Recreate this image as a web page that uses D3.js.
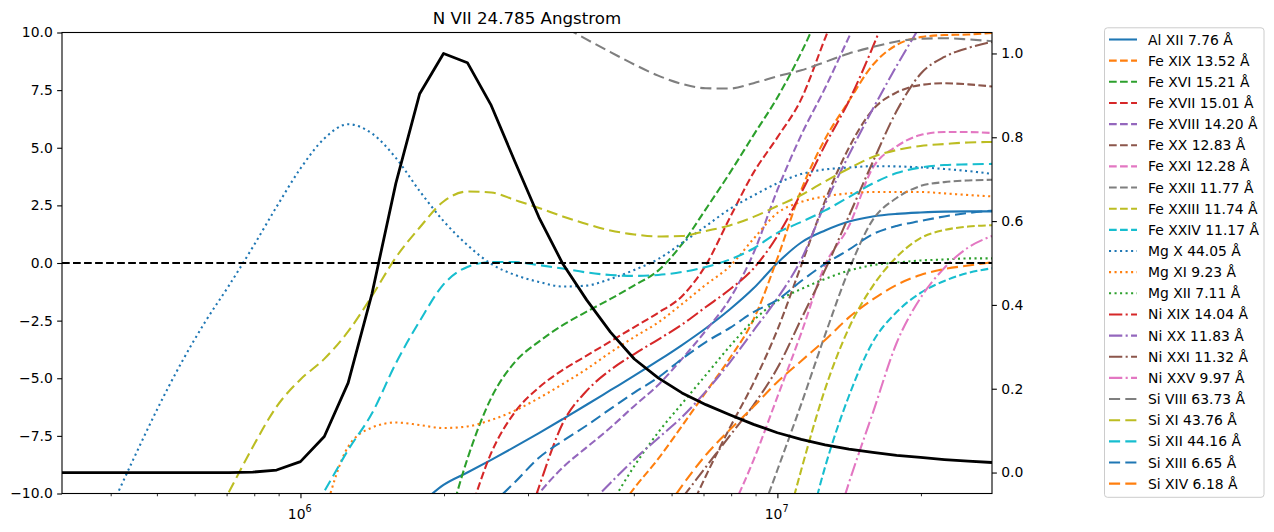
<!DOCTYPE html>
<html><head><meta charset="utf-8">
<script src="https://cdn.jsdelivr.net/npm/d3@7"></script>
<style>
html,body{margin:0;padding:0;background:#fff;}
text{font-family:"DejaVu Sans",sans-serif;}
</style></head>
<body>
<svg id="chart" width="1274" height="532"></svg>
<script>
const N = null;
const logT = [5.50,5.55,5.60,5.65,5.70,5.75,5.80,5.85,5.90,5.95,6.00,6.05,6.10,6.15,6.20,6.25,6.30,6.35,6.40,6.45,
              6.50,6.55,6.60,6.65,6.70,6.75,6.80,6.85,6.90,6.95,7.00,7.05,7.10,7.15,7.20,7.25,7.30,7.35,7.40,7.45];
const titleText = "N VII 24.785 Angstrom";
const leftTicks = [-10,-7.5,-5,-2.5,0,2.5,5,7.5,10];
const rightTicks = [0,0.2,0.4,0.6,0.8,1.0];
const majorX = [1e6,1e7];
const majorXExp = ["6","7"];
const minorX = [4e5,5e5,6e5,7e5,8e5,9e5,2e6,3e6,4e6,5e6,6e6,7e6,8e6,9e6,2e7];

// normalised contribution function (right axis)
const nviiGofT = [0,0,0,0,0,0,0,0,0.001,0.006,0.026,0.086,0.214,0.427,0.69,0.904,1.0,0.978,0.876,0.741,
                  0.609,0.498,0.412,0.335,0.271,0.226,0.19,0.162,0.138,0.115,0.095,0.079,0.066,0.056,0.048,0.041,0.036,0.031,0.027,0.024];

const alXII   = [N,N,N,N,N,N,N,N,N,N,N,N,N,N,N,-10.49,-9.63,-9.09,-8.54,-7.97,-7.38,-6.77,-6.15,-5.52,-4.89,-4.24,-3.56,-2.83,-2.02,-1.1,0.0,0.89,1.41,1.8,2.02,2.13,2.19,2.23,2.24,2.24];
const feXIX   = [N,N,N,N,N,N,N,N,N,N,N,N,N,N,N,N,N,N,N,N,N,N,N,-11.2,-9.76,-8.5,-7.07,-5.6,-4.14,-2.45,0.2,3.17,5.38,7.03,8.59,9.46,9.8,9.89,9.91,9.98];
const feXVI   = [N,N,N,N,N,N,N,N,N,N,N,N,N,N,N,N,-12.1,-8.5,-5.85,-4.29,-3.41,-2.7,-2.11,-1.56,-0.97,-0.33,0.82,2.34,3.9,5.55,7.18,9.13,11.4,N,N,N,N,N,N,N];
const feXVII  = [N,N,N,N,N,N,N,N,N,N,N,N,N,N,N,N,N,-11.2,-8.24,-6.46,-5.4,-4.64,-4.02,-3.4,-2.78,-2.16,-1.44,-0.09,1.95,3.92,5.45,7.11,9.75,12.3,N,N,N,N,N,N];
const feXVIII = [N,N,N,N,N,N,N,N,N,N,N,N,N,N,N,N,N,N,N,-11.4,-10.0,-8.87,-8.0,-7.14,-6.2,-5.29,-4.16,-2.93,-1.56,0.43,3.17,5.55,7.59,9.8,12,N,N,N,N,N];
const feXX    = [N,N,N,N,N,N,N,N,N,N,N,N,N,N,N,N,N,N,N,N,N,N,N,N,N,N,-11.5,-9.24,-7.16,-5.2,-2.9,-0.1,2.7,5.0,6.65,7.4,7.72,7.8,7.75,7.66];
const feXXI   = [N,N,N,N,N,N,N,N,N,N,N,N,N,N,N,N,N,N,N,N,N,N,N,N,N,N,N,N,-10.9,-8.55,-5.81,-3.04,-0.09,1.6,4.13,5.06,5.55,5.68,5.68,5.64];
const feXXII  = [N,N,N,N,N,N,N,N,N,N,N,N,N,N,N,N,N,N,N,N,N,N,N,N,N,N,N,N,N,-11.8,-8.98,-6.12,-3.12,-0.3,1.87,2.82,3.34,3.51,3.58,3.61];
const feXXIII = [N,N,N,N,N,N,N,N,N,N,N,N,N,N,N,N,N,N,N,N,N,N,N,N,N,N,N,N,N,N,-12.9,-8.98,-5.47,-2.82,-1.0,0.26,1.08,1.43,1.58,1.64];
const feXXIV  = [N,N,N,N,N,N,N,N,N,N,N,N,N,N,N,N,N,N,N,N,N,N,N,N,N,N,N,N,N,N,N,-12.9,-8.85,-5.77,-3.43,-2.13,-1.3,-0.78,-0.43,-0.23];
const mgX     = [N,N,-10.75,-8.5,-6.33,-4.34,-2.56,-0.98,0.69,2.44,4.1,5.4,6.02,5.62,4.56,3.12,1.82,0.78,-0.04,-0.52,-0.82,-1.02,-0.98,-0.69,-0.3,0.17,0.87,1.6,2.34,2.93,3.46,3.86,4.06,4.14,4.2,4.19,4.15,4.08,3.99,3.87];
const mgXI    = [N,N,N,N,N,N,N,N,N,N,N,-10.9,-7.97,-7.14,-6.92,-7.03,-7.16,-7.09,-6.81,-6.4,-5.86,-5.25,-4.6,-3.88,-3.21,-2.58,-1.78,-0.94,-0.15,1.05,2.17,2.65,2.89,3.02,3.08,3.08,3.08,3.02,2.95,2.89];
const mgXII   = [N,N,N,N,N,N,N,N,N,N,N,N,N,N,N,N,N,N,N,N,N,N,N,-10.5,-8.81,-7.35,-6.1,-4.86,-3.62,-2.49,-1.65,-1.13,-0.69,-0.33,-0.09,0.02,0.11,0.15,0.2,0.2];
const niXIX   = [N,N,N,N,N,N,N,N,N,N,N,N,N,N,N,N,N,N,N,-12.9,-9.72,-6.95,-5.55,-4.64,-3.95,-3.32,-2.67,-1.91,-1.15,-0.24,1.17,3.04,5.12,7.03,9.37,12,N,N,N,N];
const niXX    = [N,N,N,N,N,N,N,N,N,N,N,N,N,N,N,N,N,N,N,N,N,N,-10.6,-9.54,-8.52,-7.6,-6.68,-5.57,-4.32,-2.93,-1.53,0.15,2.56,4.69,6.68,8.55,10.3,N,N,N];
const niXXI   = [N,N,N,N,N,N,N,N,N,N,N,N,N,N,N,N,N,N,N,N,N,N,N,N,N,N,-10.2,-8.85,-7.5,-6.16,-4.56,-2.43,-0.3,2.04,4.38,6.59,8.2,8.94,9.33,9.59];
const niXXV   = [N,N,N,N,N,N,N,N,N,N,N,N,N,N,N,N,N,N,N,N,N,N,N,N,N,N,N,N,N,N,N,N,-12.9,-9.54,-6.51,-3.47,-1.52,-0.22,0.67,1.17];
const siVIII  = [N,N,N,N,N,N,N,N,N,N,N,N,N,N,N,N,N,N,N,N,10.9,10.28,9.7,9.15,8.61,8.13,7.77,7.58,7.57,7.8,8.1,8.36,8.72,9.09,9.37,9.61,9.73,9.75,9.7,9.62];
const siXI    = [N,N,N,N,N,N,-11.8,-9.93,-7.98,-6.23,-5.05,-4.16,-2.97,-1.43,0.24,1.54,2.67,3.1,3.06,2.73,2.39,2.02,1.69,1.41,1.24,1.15,1.17,1.39,1.63,2.0,2.47,2.95,3.54,4.1,4.6,4.9,5.08,5.16,5.23,5.25];
const siXII   = [N,N,N,N,N,N,N,N,N,N,-11.7,-9.91,-8.11,-6.52,-4.35,-2.52,-0.93,-0.17,0.04,0.04,-0.09,-0.24,-0.41,-0.52,-0.56,-0.52,-0.39,-0.17,0.15,0.63,1.31,1.78,2.28,2.86,3.45,3.9,4.14,4.25,4.28,4.3];
const siXIII  = [N,N,N,N,N,N,N,N,N,N,N,N,N,N,N,N,N,N,-10.5,-9.5,-8.45,-7.72,-7.05,-6.33,-5.62,-4.97,-4.16,-3.43,-2.82,-2.13,-1.6,-0.78,-0.04,0.58,1.25,1.61,1.82,2.02,2.17,2.27];
const siXIV   = [N,N,N,N,N,N,N,N,N,N,N,N,N,N,N,N,N,N,N,N,N,N,N,N,N,-11.2,-9.67,-8.33,-7.24,-6.23,-5.16,-4.25,-3.34,-2.36,-1.58,-0.95,-0.52,-0.26,-0.11,0.03];

const seriesNames = ["Al XII 7.76 Å","Fe XIX 13.52 Å","Fe XVI 15.21 Å","Fe XVII 15.01 Å","Fe XVIII 14.20 Å","Fe XX 12.83 Å",
  "Fe XXI 12.28 Å","Fe XXII 11.77 Å","Fe XXIII 11.74 Å","Fe XXIV 11.17 Å","Mg X 44.05 Å","Mg XI 9.23 Å","Mg XII 7.11 Å",
  "Ni XIX 14.04 Å","Ni XX 11.83 Å","Ni XXI 11.32 Å","Ni XXV 9.97 Å","Si VIII 63.73 Å","Si XI 43.76 Å","Si XII 44.16 Å",
  "Si XIII 6.65 Å","Si XIV 6.18 Å"];
const seriesData = [alXII,feXIX,feXVI,feXVII,feXVIII,feXX,feXXI,feXXII,feXXIII,feXXIV,mgX,mgXI,mgXII,niXIX,niXX,niXXI,niXXV,siVIII,siXI,siXII,siXIII,siXIV];
const seriesColors = ["#1f77b4","#ff7f0e","#2ca02c","#d62728","#9467bd","#8c564b","#e377c2","#7f7f7f","#bcbd22","#17becf",
  "#1f77b4","#ff7f0e","#2ca02c","#d62728","#9467bd","#8c564b","#e377c2","#7f7f7f","#bcbd22","#17becf","#1f77b4","#ff7f0e"];
const seriesStyle = ["solid","dashed","dashed","dashed","dashed","dashed","dashed","dashed","dashed","dashed",
  "dotted","dotted","dotted","dashdot","dashdot","dashdot","dashdot","long","long","long","long","long"];

const dashMap = {solid:null, dashed:"7.7,3.33", dotted:"2.08,3.44", dashdot:"13.3,3.33,2.08,3.33", long:"11.1,5.2"};

const svg = d3.select("#chart");
const L = 62, R = 992, T = 32.5, B = 493.5;
const temps = logT.map(v => Math.pow(10, v));
const x = d3.scaleLog().domain(d3.extent(temps)).range([L, R]);
const yL = d3.scaleLinear().domain([-10, 10]).range([B, T]);
const yR = d3.scaleLinear().domain([-0.05, 1.05]).range([B, T]);

svg.append("defs").append("clipPath").attr("id","clip")
  .append("rect").attr("x",L).attr("y",T).attr("width",R-L).attr("height",B-T);

const plot = svg.append("g").attr("clip-path","url(#clip)");

seriesData.forEach((arr, i) => {
  const pts = arr.map((v, j) => ({t: temps[j], v}));
  const line = d3.line().defined(d => d.v !== null).x(d => x(d.t)).y(d => yL(d.v)).curve(d3.curveMonotoneX);
  plot.append("path").attr("d", line(pts)).attr("fill","none")
    .attr("stroke", seriesColors[i]).attr("stroke-width", 2.08)
    .attr("stroke-dasharray", dashMap[seriesStyle[i]]);
});

// zero reference line
plot.append("line").attr("x1",L).attr("x2",R).attr("y1",yL(0)).attr("y2",yL(0))
  .attr("stroke","#000").attr("stroke-width",2.08).attr("stroke-dasharray","7.7,3.33");

// contribution function on right axis
const gLine = d3.line().x((d,j) => x(temps[j])).y(d => yR(d));
plot.append("path").attr("d", gLine(nviiGofT)).attr("fill","none")
  .attr("stroke","#000").attr("stroke-width",2.78).attr("stroke-linejoin","round");

// axes
const axL = d3.axisLeft(yL).tickValues(leftTicks).tickFormat(d3.format(".1f")).tickSize(4.86).tickPadding(4.4);
const gL = svg.append("g").attr("transform",`translate(${L},0)`).call(axL);
const axRt = d3.axisRight(yR).tickValues(rightTicks).tickFormat(d3.format(".1f")).tickSize(4.86).tickPadding(4.4);
const gR = svg.append("g").attr("transform",`translate(${R},0)`).call(axRt);
const axMinor = d3.axisBottom(x).tickValues(minorX).tickFormat("").tickSize(2.78);
const gMin = svg.append("g").attr("transform",`translate(0,${B})`).call(axMinor);
const axMajor = d3.axisBottom(x).tickValues(majorX).tickFormat("").tickSize(4.86);
const gMaj = svg.append("g").attr("transform",`translate(0,${B})`).call(axMajor);

[gL,gR,gMin,gMaj].forEach(g => {
  g.select(".domain").remove();
  g.selectAll("line").attr("stroke","#000").attr("stroke-width",1.1);
  g.selectAll("text").attr("fill","#000").style("font-family","DejaVu Sans").style("font-size","13.9px");
});
gMin.selectAll("line").attr("stroke-width",0.83);

majorX.forEach((v,i) => {
  const t = svg.append("text").attr("x", x(v) - 0.7).attr("y", 518.5).attr("text-anchor","middle")
    .style("font-size","13.9px").attr("fill","#000");
  t.append("tspan").text("10");
  t.append("tspan").attr("dy",-6.2).style("font-size","9.7px").text(majorXExp[i]);
});

// spines
svg.append("rect").attr("x",L).attr("y",T).attr("width",R-L).attr("height",B-T)
  .attr("fill","none").attr("stroke","#000").attr("stroke-width",1.1);

// title
svg.append("text").attr("x",(L+R)/2).attr("y",24.2).attr("text-anchor","middle")
  .style("font-size","16.67px").attr("fill","#000").text(titleText);

// legend
const lg = svg.append("g");
lg.append("rect").attr("x",1104.5).attr("y",27.8).attr("width",159.5).attr("height",469.5).attr("rx",3)
  .attr("fill","#fff").attr("fill-opacity",0.8).attr("stroke","#cccccc").attr("stroke-width",1);
seriesNames.forEach((name,i) => {
  const yy = 39.5 + i*21.15;
  lg.append("line").attr("x1",1109).attr("x2",1137).attr("y1",yy).attr("y2",yy)
    .attr("stroke",seriesColors[i]).attr("stroke-width",2.08).attr("stroke-dasharray",dashMap[seriesStyle[i]]);
  lg.append("text").attr("x",1148).attr("y",yy+5).style("font-size","13.9px").attr("fill","#000").text(name);
});
</script>
</body></html>
